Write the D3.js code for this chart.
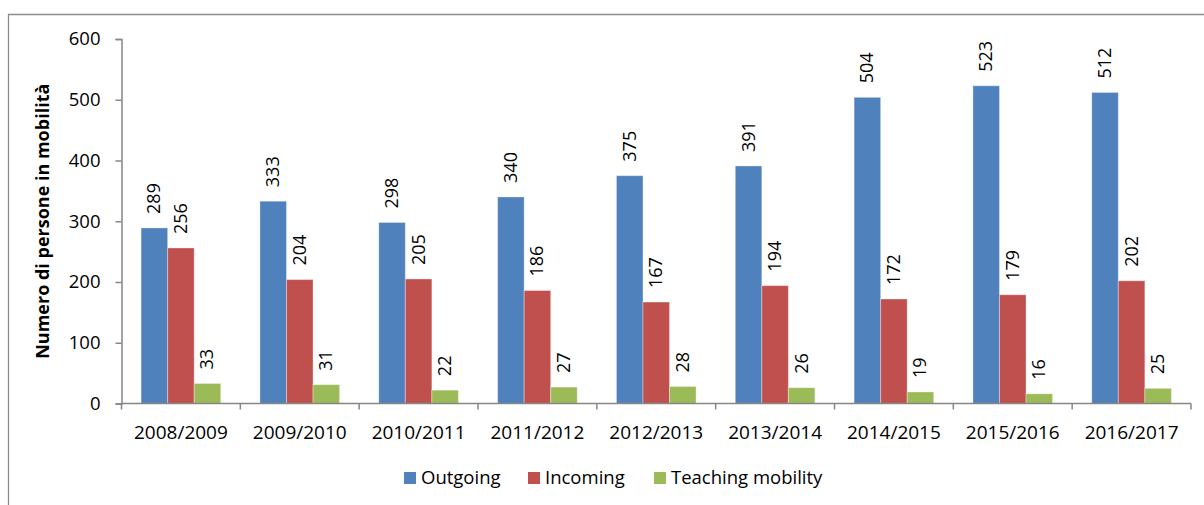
<!DOCTYPE html>
<html>
<head>
<meta charset="utf-8">
<script src="https://cdn.jsdelivr.net/npm/d3@7"></script>
<style>
  body { margin: 0; background: #fff; }
  svg { display: block; font-family: "Open Sans", sans-serif; }
</style>
</head>
<body>
<div id="chart"></div>
<script>
// Data
const years = ["2008/2009", "2009/2010", "2010/2011", "2011/2012", "2012/2013",
               "2013/2014", "2014/2015", "2015/2016", "2016/2017"];
const outgoing = [289, 333, 298, 340, 375, 391, 504, 523, 512];
const incoming = [256, 204, 205, 186, 167, 194, 172, 179, 202];
const teaching = [33, 31, 22, 27, 28, 26, 19, 16, 25];
const seriesNames = ["Outgoing", "Incoming", "Teaching mobility"];
const yTicks = [0, 100, 200, 300, 400, 500, 600];

let width = 1204,
    height = 505,
    margin = ({ top: 39, right: 13, bottom: 101.5, left: 121.5 });

const colors = ["#4F81BD", "#C0504D", "#9BBB59"];
const series = [outgoing, incoming, teaching];

const svg = d3.select("#chart")
  .append("svg")
  .attr("width", width)
  .attr("height", height);

// chart frame (only top and left edges visible in the crop)
svg.append("path")
  .attr("d", `M8.5,${height}V14.5H${width}`)
  .attr("fill", "none")
  .attr("stroke", "#8c8c8c")
  .attr("stroke-width", 1.3);

let x0 = d3.scaleBand()
  .domain(years)
  .range([margin.left, width - margin.right])
  .paddingInner(0.33)
  .paddingOuter(0.165);

let x1 = d3.scaleBand()
  .domain(d3.range(3))
  .range([0, x0.bandwidth()]);

let y = d3.scaleLinear()
  .domain([0, 600])
  .range([height - margin.bottom, margin.top]);

// bars
const groups = svg.append("g")
  .selectAll("g")
  .data(years)
  .join("g")
  .attr("transform", d => `translate(${x0(d)},0)`);

groups.selectAll("rect")
  .data((d, i) => series.map((s, k) => ({ k, v: s[i] })))
  .join("rect")
  .attr("x", d => x1(d.k))
  .attr("width", x1.bandwidth())
  .attr("y", d => y(d.v))
  .attr("height", d => y(0) - y(d.v))
  .attr("fill", d => colors[d.k])
  .attr("stroke", "rgba(255,255,255,0.35)")
  .attr("stroke-width", 1);

// value labels, rotated
groups.selectAll("text")
  .data((d, i) => series.map((s, k) => ({ k, v: s[i] })))
  .join("text")
  .attr("transform", d => `translate(${x1(d.k) + x1.bandwidth() / 2 + 6},${y(d.v) - 14}) rotate(-90)`)
  .attr("font-size", 18)
  .attr("fill", "#000")
  .text(d => d.v);

// y axis
const yAxis = svg.append("g")
  .attr("transform", `translate(${margin.left},0)`)
  .call(d3.axisLeft(y).tickValues(yTicks).tickSize(6).tickPadding(15));
yAxis.select(".domain").attr("stroke", "#868686").attr("stroke-width", 1.5);
yAxis.selectAll(".tick line").attr("stroke", "#868686").attr("stroke-width", 1.5);
yAxis.selectAll("text").attr("font-size", 18.5).attr("fill", "#000")
  .attr("font-family", "Open Sans, sans-serif");

// x axis: ticks between categories
const xAxis = svg.append("g")
  .attr("transform", `translate(0,${y(0)})`);
xAxis.append("line")
  .attr("x1", margin.left).attr("x2", width - margin.right)
  .attr("stroke", "#868686").attr("stroke-width", 1.5);
const bounds = d3.range(years.length + 1).map(i => margin.left + i * (width - margin.left - margin.right) / years.length);
xAxis.selectAll(".sep")
  .data(bounds)
  .join("line")
  .attr("x1", d => d).attr("x2", d => d)
  .attr("y1", 0).attr("y2", 6)
  .attr("stroke", "#868686").attr("stroke-width", 1.5);
xAxis.selectAll(".lab")
  .data(years)
  .join("text")
  .attr("x", d => x0(d) + x0.bandwidth() / 2)
  .attr("y", 35)
  .attr("text-anchor", "middle")
  .attr("font-size", 19)
  .attr("fill", "#000")
  .text(d => d);

// y axis title
svg.append("text")
  .attr("transform", `translate(49,${(margin.top + y(0)) / 2}) rotate(-90)`)
  .attr("text-anchor", "middle")
  .attr("font-size", 18)
  .attr("font-weight", "bold")
  .text("Numero di persone in mobilità");

// legend
const legendX = [404, 528, 654];
const legend = svg.append("g")
  .selectAll("g")
  .data(seriesNames)
  .join("g")
  .attr("transform", (d, i) => `translate(${legendX[i]},472)`);
legend.append("rect")
  .attr("width", 12).attr("height", 12)
  .attr("fill", (d, i) => colors[i]);
legend.append("text")
  .attr("x", 17).attr("y", 12)
  .attr("font-size", 18.5)
  .text(d => d);
</script>
</body>
</html>
